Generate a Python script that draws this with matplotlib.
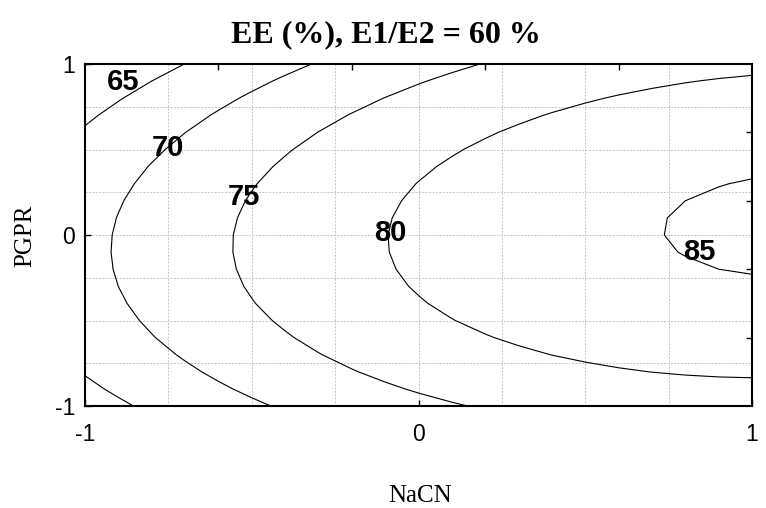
import numpy as np
import matplotlib
matplotlib.use("Agg")
import matplotlib.pyplot as plt
from matplotlib.ticker import FixedLocator

# coded factor ranges
nacn_range = [-1.0, 1.0]
pgpr_range = [-1.0, 1.0]

# fitted response surface for EE (%)
# EE = b0 + b1*x + b2*y + b11*x^2 + b22*y^2 + b12*x*y
b0 = 80.8
b_lin = [8.4, -0.3]
b_quad = [-3.65, -7.1]
b_int = 1.0

levels = [65, 70, 75, 80, 85]
# where each contour label sits (data coords)
label_pos = [(-0.886, 0.895), (-0.751, 0.51), (-0.523, 0.225), (-0.085, 0.01), (0.841, -0.10)]

tick_vals = [-1, 0, 1]
tick_text = ["-1", "0", "1"]

sans = "Liberation Sans"
serif = "Liberation Serif"

# coarse grid, like the original software
x = np.linspace(nacn_range[0], nacn_range[1], 21)
y = np.linspace(pgpr_range[0], pgpr_range[1], 21)
X, Y = np.meshgrid(x, y)
Z = (b0 + b_lin[0] * X + b_lin[1] * Y + b_quad[0] * X**2
     + b_quad[1] * Y**2 + b_int * X * Y)

fig = plt.figure(figsize=(7.66, 5.08), dpi=100)
ax = fig.add_axes([85 / 766, 1 - 406 / 508, 667 / 766, 342 / 508])

# dotted grid every 0.25
for g in np.arange(-0.75, 1.0, 0.25):
    ax.axvline(g, color="#c4c4c4", lw=0.7, ls=(0, (2, 1.5)), zorder=0)
    ax.axhline(g, color="#c4c4c4", lw=0.7, ls=(0, (2, 1.5)), zorder=0)

ax.contour(X, Y, Z, levels=levels, colors="k", linewidths=0.8)

for lev, (lx, ly) in zip(levels, label_pos):
    ax.text(lx, ly, str(lev), ha="center", va="center", fontsize=21,
            fontweight="bold", family=sans, color="k")

ax.set_xlim(nacn_range)
ax.set_ylim(pgpr_range)

ax.xaxis.set_major_locator(FixedLocator(tick_vals))
ax.yaxis.set_major_locator(FixedLocator(tick_vals))
ax.set_xticklabels(tick_text, family=sans, fontsize=16.5)
ax.set_yticklabels(tick_text, family=sans, fontsize=16.5)
ax.xaxis.set_minor_locator(FixedLocator([-0.6, -0.2, 0.2, 0.6]))
ax.yaxis.set_minor_locator(FixedLocator([-0.6, -0.2, 0.2, 0.6]))
ax.tick_params(which="major", direction="in", length=4, width=1)
ax.tick_params(axis="x", which="major", pad=12)
ax.tick_params(axis="y", which="major", pad=7)
ax.tick_params(which="minor", direction="in", length=4, width=1,
               bottom=False, left=False, top=True, right=True)

for sp in ax.spines.values():
    sp.set_linewidth(1.5)

fig.text(386 / 766, 1 - 35 / 508, "EE (%), E1/E2 = 60 %", ha="center", va="center",
         fontsize=23, fontweight="bold", family=serif)
fig.text(420 / 766, 1 - 496 / 508, "NaCN", ha="center", va="center",
         fontsize=18, family=serif)
fig.text(25 / 766, 1 - 236 / 508, "PGPR", ha="center", va="center",
         fontsize=18, family=serif, rotation=90)

fig.savefig("out.png", dpi=100)
